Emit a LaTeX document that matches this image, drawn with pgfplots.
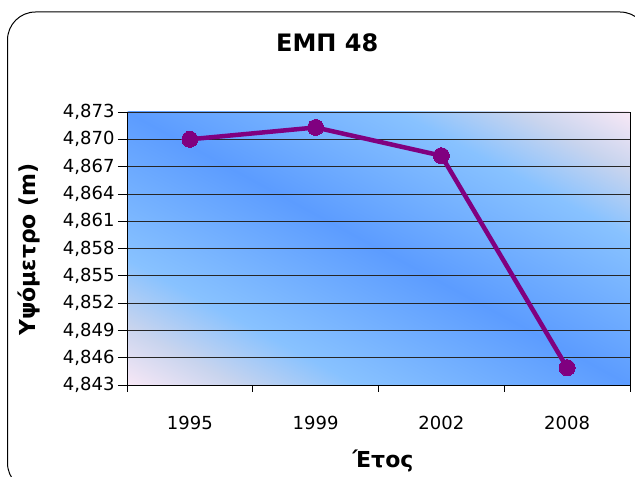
\documentclass[border=0pt]{standalone}
\usepackage{fontspec}
\setmainfont{DejaVu Sans}
\usepackage{pgfplots}
\pgfplotsset{compat=1.18}

\definecolor{elevline}{RGB}{128,0,128}
\definecolor{bgpink}{RGB}{248,232,246}
\definecolor{bggray}{RGB}{200,212,238}
\definecolor{bglight}{RGB}{136,194,255}
\definecolor{bgblue}{RGB}{92,156,255}
% gradient across the plot area, from the lower-left corner (25bp)
% to the upper-right one (75bp)
\pgfdeclarehorizontalshading{plotbg}{100bp}{%
  color(0bp)=(bgpink); color(25bp)=(bgpink); color(30.5bp)=(bggray);
  color(36.5bp)=(bglight); color(50bp)=(bgblue); color(63.5bp)=(bglight);
  color(69.5bp)=(bggray); color(75bp)=(bgpink); color(100bp)=(bgpink)}

\begin{document}
\begin{tikzpicture}
\path[use as bounding box, clip] (0bp,0bp) rectangle (635bp,477bp);
% chart frame
\draw[line width=1bp, rounded corners=28bp] (7.5bp,-14bp) rectangle (648bp,465bp);
% plot-area background: a 100bp square stretched onto the plot area,
% shaded along its diagonal
\begin{scope}[transform canvas={shift={(127bp,92bp)}, xscale=5.03, yscale=2.73}]
  \clip (0bp,0bp) rectangle (100bp,100bp);
  \begin{scope}[transform canvas={rotate around={45:(50bp,50bp)}}]
    \shade[shading=plotbg] (-20.7107bp,-20.7107bp) rectangle (120.7107bp,120.7107bp);
  \end{scope}
\end{scope}
\begin{axis}[
  at={(127bp,92bp)}, anchor=south west,
  scale only axis, width=503bp, height=273bp,
  xmin=-0.5, xmax=3.5, ymin=4.843, ymax=4.873,
  xtick={0,1,2,3}, xticklabels={1995,1999,2002,2008},
  minor xtick={-0.5,0.5,1.5,2.5,3.5},
  ytick={4.843,4.846,4.849,4.852,4.855,4.858,4.861,4.864,4.867,4.870,4.873},
  tick align=outside,
  major tick length=9bp,
  minor tick length=7bp,
  x tick style={draw=none},
  minor x tick style={draw=black, line width=0.8bp},
  y tick style={black, line width=0.8bp},
  ymajorgrids,
  major grid style={black!85, line width=0.75bp},
  axis x line*=bottom, axis y line*=left,
  axis line style={black, line width=1bp, -},
  yticklabel style={/pgf/number format/.cd, fixed, fixed zerofill, precision=3,
    use comma, 1000 sep={}, assume math mode=true},
  ticklabel style={font=\fontsize{18bp}{20bp}\selectfont},
  xticklabel style={yshift=-19bp},
  title={ΕΜΠ 48},
  title style={font=\bfseries\fontsize{24bp}{26bp}\selectfont,
    at={(axis description cs:0.398,1.200)}, anchor=base},
  ylabel={Υψόμετρο (m)},
  ylabel style={font=\bfseries\fontsize{22bp}{24bp}\selectfont,
    at={(axis description cs:-0.195,0.496)}, anchor=center, rotate=0},
  xlabel={Έτος},
  xlabel style={font=\bfseries\fontsize{22bp}{24bp}\selectfont,
    at={(axis description cs:0.509,-0.278)}, anchor=center},
  clip=false,
]
\addplot[color=elevline, line width=4.5bp, mark=*, mark size=8bp,
  mark options={fill=elevline, draw=elevline, line width=0bp}]
  coordinates {(0,4.8700) (1,4.8713) (2,4.8682) (3,4.8449)};
\end{axis}
% right edge of the plot area
\draw[line width=1bp] (630bp,92bp) -- (630bp,365bp);
\end{tikzpicture}
\end{document}
